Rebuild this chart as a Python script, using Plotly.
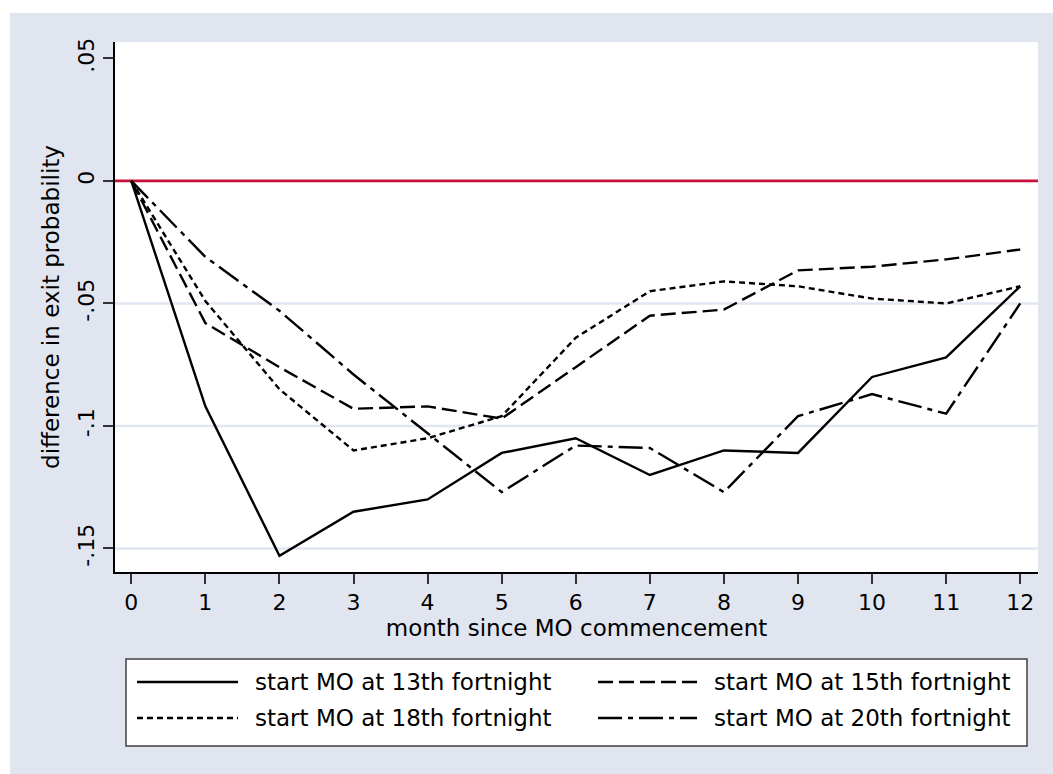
import plotly.graph_objects as go

# Months since MO commencement and estimated differences in exit probability
months = list(range(13))
start13 = [0, -0.092, -0.153, -0.135, -0.130, -0.111, -0.105, -0.120, -0.110, -0.111, -0.080, -0.072, -0.043]
start15 = [0, -0.058, -0.076, -0.093, -0.092, -0.097, -0.076, -0.055, -0.0525, -0.0365, -0.035, -0.032, -0.028]
start18 = [0, -0.049, -0.085, -0.110, -0.105, -0.096, -0.064, -0.045, -0.041, -0.043, -0.048, -0.050, -0.043]
start20 = [0, -0.031, -0.053, -0.079, -0.103, -0.127, -0.108, -0.109, -0.127, -0.096, -0.087, -0.095, -0.050]

series_names = [
    "start MO at 13th fortnight",
    "start MO at 15th fortnight",
    "start MO at 18th fortnight",
    "start MO at 20th fortnight",
]
y_tickvals = [-0.15, -0.1, -0.05, 0, 0.05]
y_ticktext = ["-.15", "-.1", "-.05", "0", ".05"]
grid_levels = [-0.15, -0.1, -0.05]

W, H = 1053, 774
ML, MR, MT, MB = 115, 15, 42, 202
BG = "#E0E5F0"
FONT = "DejaVu Sans"

dashes = ["solid", "15px,6px", "6px,4px", "24px,6px,5px,6px"]
series = [start13, start15, start18, start20]

fig = go.Figure()
for name, vals, dash in zip(series_names, series, dashes):
    fig.add_trace(go.Scatter(
        x=months, y=vals, mode="lines", name=name,
        line=dict(color="black", width=2.4, dash=dash),
        showlegend=False,
    ))

plot_w = W - ML - MR
plot_h = H - MT - MB


def px_x(px):
    return (px - ML) / plot_w


def px_y(py):
    return (H - MB - py) / plot_h


shapes = []
# white margins round the grey backdrop
shapes.append(dict(type="rect", xref="paper", yref="paper", layer="below",
                   x0=px_x(-5), x1=px_x(W + 5), y0=px_y(13), y1=px_y(-5),
                   fillcolor="white", line=dict(width=0)))
shapes.append(dict(type="rect", xref="paper", yref="paper", layer="below",
                   x0=px_x(-5), x1=px_x(10), y0=px_y(H + 5), y1=px_y(-5),
                   fillcolor="white", line=dict(width=0)))
# horizontal grid lines
for g in grid_levels:
    shapes.append(dict(type="line", xref="paper", yref="y", layer="below",
                       x0=0, x1=1, y0=g, y1=g,
                       line=dict(color="#E1E6F0", width=2.5)))
# reference line at zero
shapes.append(dict(type="line", xref="paper", yref="y", layer="below",
                   x0=0, x1=1, y0=0, y1=0,
                   line=dict(color="#C8103A", width=2.8)))

# legend box
LX0, LX1, LY0, LY1 = 126, 1027, 659, 746
shapes.append(dict(type="rect", xref="paper", yref="paper",
                   x0=px_x(LX0), x1=px_x(LX1), y0=px_y(LY1), y1=px_y(LY0),
                   fillcolor="white", line=dict(color="#404040", width=1.5)))

annotations = []
rows = [682, 718]
cols = [(137, 238, 253), (598, 697, 712)]
for i, (name, dash) in enumerate(zip(series_names, dashes)):
    r, c = divmod(i, 2)
    sx0, sx1, tx = cols[c]
    yy = px_y(rows[r])
    shapes.append(dict(type="line", xref="paper", yref="paper",
                       x0=px_x(sx0), x1=px_x(sx1), y0=yy, y1=yy,
                       line=dict(color="black", width=2.4, dash=dash)))
    annotations.append(dict(xref="paper", yref="paper", x=px_x(tx), y=yy,
                            text=name, showarrow=False, xanchor="left",
                            yanchor="middle",
                            font=dict(family=FONT, size=23, color="black")))

fig.update_layout(
    width=W, height=H,
    margin=dict(l=ML, r=MR, t=MT, b=MB, pad=0),
    paper_bgcolor=BG, plot_bgcolor="white",
    shapes=shapes, annotations=annotations,
    font=dict(family=FONT, color="black"),
    xaxis=dict(
        range=[-0.22, 12.24], tickvals=months, ticktext=[str(m) for m in months],
        ticks="outside", ticklen=10, tickwidth=1.5, tickcolor="#333333",
        showline=True, linecolor="black", linewidth=1.5,
        showgrid=False, zeroline=False,
        tickfont=dict(family=FONT, size=22, color="black"),
        title=dict(text="month since MO commencement", standoff=4,
                   font=dict(family=FONT, size=23, color="black")),
    ),
    yaxis=dict(
        range=[-0.1596, 0.0567], tickvals=y_tickvals, ticktext=y_ticktext,
        tickangle=-90,
        ticks="outside", ticklen=10, tickwidth=1.5, tickcolor="#333333",
        showline=True, linecolor="black", linewidth=1.5,
        showgrid=False, zeroline=False,
        tickfont=dict(family=FONT, size=22, color="black"),
        title=dict(text="difference in exit probability", standoff=8,
                   font=dict(family=FONT, size=23, color="black")),
    ),
)

fig.write_html("out.html")
